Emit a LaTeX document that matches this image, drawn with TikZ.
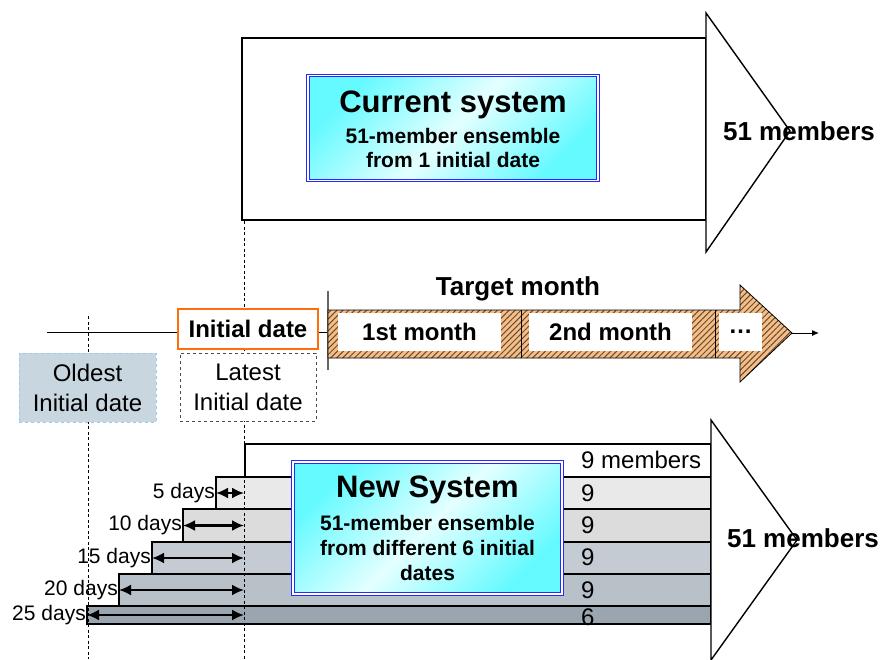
\documentclass[tikz,border=0pt]{standalone}
\usepackage{fontspec}
\setmainfont{Liberation Sans}
\usepackage{tikz}
\usetikzlibrary{arrows.meta, positioning, calc, patterns.meta}
\definecolor{cyanbox}{RGB}{100, 250, 255}
\definecolor{palecyan}{RGB}{228, 255, 255}
\definecolor{boxblue}{RGB}{40, 40, 255}
\definecolor{hatchfill}{RGB}{245, 190, 135}
\definecolor{hatchline}{RGB}{105, 75, 50}
\definecolor{initorange}{RGB}{255, 110, 10}
\definecolor{oldfill}{RGB}{200, 214, 224}
\definecolor{oldline}{RGB}{150, 200, 240}
\definecolor{rowA}{RGB}{233, 233, 233}
\definecolor{rowB}{RGB}{220, 220, 220}
\definecolor{rowC}{RGB}{197, 203, 210}
\definecolor{rowD}{RGB}{184, 192, 200}
\definecolor{rowE}{RGB}{154, 165, 175}
\tikzstyle{bodybox} = [rectangle, draw, line width=1.8pt, fill=white, inner sep=0pt, outer sep=0pt, anchor=north west]
\tikzstyle{headshape} = [draw, line width=1.4pt, fill=white]
\tikzstyle{sysbox} = [rectangle, draw=boxblue, double=white, double distance=1.4pt, line width=1pt, top color=cyanbox, bottom color=cyanbox, middle color=palecyan, shading angle=45, inner sep=0pt]
\tikzstyle{systitle} = [font=\bfseries\fontsize{31}{34}\selectfont, inner sep=0pt]
\tikzstyle{systext} = [font=\bfseries\fontsize{21}{24}\selectfont, align=center, inner sep=0pt]
\tikzstyle{bigtext} = [font=\bfseries\fontsize{26}{30}\selectfont, inner sep=0pt]
\tikzstyle{initbox} = [rectangle, draw=initorange, line width=2pt, fill=white, font=\bfseries\fontsize{24}{28}\selectfont, inner sep=0pt]
\tikzstyle{datebox} = [rectangle, dashed, line width=1pt, align=center, font=\fontsize{24}{30}\selectfont, inner sep=0pt]
\tikzstyle{monthbox} = [rectangle, fill=white, font=\bfseries\fontsize{24}{28}\selectfont, inner sep=0pt]
\tikzstyle{rowbar} = [rectangle, draw, line width=1.5pt, inner sep=0pt, outer sep=0pt, anchor=north west, minimum width=466pt]
\tikzstyle{countlabel} = [font=\fontsize{24}{28}\selectfont, anchor=west, inner sep=0pt]
\tikzstyle{daylabel} = [font=\fontsize{21}{25}\selectfont, anchor=east, inner sep=1pt]
\tikzstyle{guide} = [dash pattern=on 3pt off 2.5pt, line width=0.8pt]
\tikzstyle{dimarrow} = [line width=2.2pt, {Latex[length=12pt,width=11pt]}-{Latex[length=12pt,width=11pt]}]
\tikzstyle{timeline} = [line width=1pt]
\tikzstyle{hatched} = [draw, line width=0.8pt, preaction={fill=hatchfill}, pattern={Lines[angle=45, distance=4.2pt, line width=1pt]}, pattern color=hatchline]
\begin{document}
\begin{tikzpicture}[x=1pt, y=-1pt]
    \useasboundingbox (0,0) rectangle (882,659);

    % Current system arrow
    \node[bodybox, minimum width=464pt, minimum height=182pt] (curbody) at (242,38) {};
    \draw[headshape] (706,13) -- (790,131) -- (706,252) -- cycle;
    \node[sysbox, minimum width=290pt, minimum height=105pt] (cursys) at (453,128) {};
    \node[systitle] (curtitle) at (453,105) {Current system};
    \node[systext] (curtext) at (453,148) {51-member ensemble\\from 1 initial date};
    \node[bigtext] (curmembers) at (799,131) {51 members};

    % Guides
    \coordinate (dashA) at (88,316);
    \coordinate (dashB) at (244,221);
    \coordinate (bottom) at (0,659);

    % New system rows
    \node[rowbar, fill=white, minimum width=466pt, minimum height=33pt] (r1) at (245,444) {};
    \node[rowbar, fill=rowA, minimum width=495pt, minimum height=32pt] (r2) at (216,477) {};
    \node[rowbar, fill=rowB, minimum width=528pt, minimum height=33pt] (r3) at (183,509) {};
    \node[rowbar, fill=rowC, minimum width=559pt, minimum height=32pt] (r4) at (152,542) {};
    \node[rowbar, fill=rowD, minimum width=592pt, minimum height=32pt] (r5) at (119,574) {};
    \node[rowbar, fill=rowE, minimum width=624pt, minimum height=18pt] (r6) at (87,606) {};

    \draw[guide] (dashA) -- (dashA |- bottom);
    \draw[guide] (dashB) -- (dashB |- bottom);

    % Member counts
    \node[countlabel] (c1) at (581,460) {9 members};
    \node[countlabel] (c2) at (581,493) {9};
    \node[countlabel] (c3) at (581,525) {9};
    \node[countlabel] (c4) at (581,557) {9};
    \node[countlabel] (c5) at (581,590) {9};
    \node[countlabel] (c6) at (581,617) {6};

    % Lead times
    \node[daylabel] (d5) at (r2.west) {5 days};
    \node[daylabel] (d10) at (r3.west) {10 days};
    \node[daylabel] (d15) at (r4.west) {15 days};
    \node[daylabel] (d20) at (r5.west) {20 days};
    \node[daylabel] (d25) at (r6.west) {25 days};
    \draw[dimarrow] (r2.west) -- (r2.west -| dashB);
    \draw[dimarrow] (r3.west) -- (r3.west -| dashB);
    \draw[dimarrow] (r4.west) -- (r4.west -| dashB);
    \draw[dimarrow] (r5.west) -- (r5.west -| dashB);
    \draw[dimarrow] (r6.west) -- (r6.west -| dashB);

    \draw[headshape] (711,420) -- (797,540) -- (711,660) -- cycle;
    \node[sysbox, minimum width=269pt, minimum height=132pt] (newsys) at (427.5,528) {};
    \node[systitle] (newtitle) at (427.5,490) {New System};
    \node[systext, font=\bfseries\fontsize{21}{25}\selectfont] (newtext) at (427.5,548) {51-member ensemble\\from different 6 initial\\dates};
    \node[bigtext] (newmembers) at (803,538) {51 members};

    % Time line
    \node[initbox, minimum width=140pt, minimum height=40pt] (initial) at (248,329) {Initial date};
    \node[datebox, draw=oldline, fill=oldfill, minimum width=137pt, minimum height=69pt] (oldest) at (87.5,387.5) {Oldest\\Initial date};
    \node[datebox, draw=black!70, fill=white, minimum width=136pt, minimum height=68pt] (latest) at (248,387) {Latest\\Initial date};
    \coordinate (start) at (47,332);
    \coordinate (tick) at (328,332);
    \draw[timeline] (start) -- (start -| initial.west);
    \draw[timeline] (initial.east |- tick) -- (tick);
    \draw[line width=1.5pt, black!60] ($(tick)+(0,-41)$) -- ($(tick)+(0,38)$);

    % Target month arrow
    \draw[hatched] (328,310) -- (740,310) -- (740,285) -- (792,333) -- (740,382) -- (740,358) -- (328,358) -- cycle;
    \node[monthbox, minimum width=163pt, minimum height=38pt] (m1) at (419.5,332) {1st month};
    \node[monthbox, minimum width=163pt, minimum height=38pt] (m2) at (610.5,332) {2nd month};
    \node[monthbox, minimum width=43pt, minimum height=38pt] (m3) at (740.5,332) {…};
    \draw[line width=0.8pt] (521,310) -- (521,358);
    \draw[line width=0.8pt] (715,310) -- (715,358);
    \coordinate (tip) at (792,333);
    \coordinate (after) at (819,333);
    \draw[line width=1pt, -{Latex[length=7pt,width=6pt]}] (tip) -- (after);
    \node[bigtext] (target) at (518,289) {Target month};
\end{tikzpicture}
\end{document}
